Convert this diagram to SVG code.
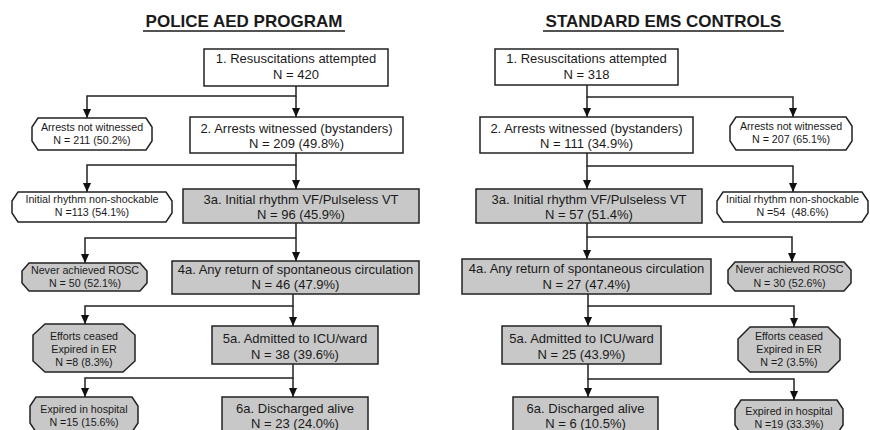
<svg xmlns="http://www.w3.org/2000/svg" width="870" height="430" viewBox="0 0 870 430">
<style>
.bg{fill:#ffffff}
.title{font-family:"Liberation Sans",Arial,sans-serif;font-size:17px;font-weight:bold;fill:#1a1a1a;text-anchor:middle}
.ul{stroke:#1a1a1a;stroke-width:1.5}
.box{fill:#ffffff;stroke:#222;stroke-width:1.5}
.gbox{fill:#c8c8c8;stroke:#222;stroke-width:1.5}
.t{font-family:"Liberation Sans",Arial,sans-serif;font-size:13px;fill:#1a1a1a;text-anchor:middle}
.s{font-family:"Liberation Sans",Arial,sans-serif;font-size:10.7px;fill:#1a1a1a;text-anchor:middle}
.conn path{fill:none;stroke:#222;stroke-width:1.5;marker-end:url(#arr)}
</style>
<defs>
<marker id="arr" viewBox="0 0 10 10" refX="10" refY="5" markerWidth="9" markerHeight="9" markerUnits="userSpaceOnUse" orient="auto">
<path d="M0,0.5 L10,5 L0,9.5 z" fill="#111"/>
</marker>
</defs>
<rect class="bg" x="0" y="0" width="870" height="430"/>

<g id="title-left">
<text class="title" x="244" y="27">POLICE AED PROGRAM</text>
<line class="ul" x1="143" y1="31" x2="345" y2="31"/>
</g>
<g id="title-right">
<text class="title" x="663.5" y="27">STANDARD EMS CONTROLS</text>
<line class="ul" x1="543" y1="31" x2="784" y2="31"/>
</g>

<g class="conn" id="connectors">
<path d="M296,86 V96 H87 V118"/>
<path d="M296,96 V117"/>
<path d="M296,153 V165 H87 V192"/>
<path d="M296,165 V189"/>
<path d="M296,223 V238 H85 V263"/>
<path d="M296,238 V261"/>
<path d="M293,294 V306 H85 V324"/>
<path d="M293,306 V326"/>
<path d="M293,364 V378 H85 V397"/>
<path d="M293,378 V397"/>

<path d="M587,85 V97 H793 V117"/>
<path d="M587,97 V117"/>
<path d="M587,153 V166 H793 V192"/>
<path d="M587,166 V189"/>
<path d="M587,223 V237 H792 V262"/>
<path d="M587,237 V259"/>
<path d="M588,294 V306 H794 V327"/>
<path d="M588,306 V326"/>
<path d="M588,364 V379 H794 V400"/>
<path d="M588,379 V397"/>
</g>

<!-- Left column -->
<g id="L1">
<rect class="box" x="204" y="49" width="184" height="37"/>
<text class="t" x="296" y="63">1. Resuscitations attempted</text>
<text class="t" x="296" y="79">N = 420</text>
</g>
<g id="L-notwit">
<polygon class="box" points="38,118 146,118 152,127 152,141 146,150 38,150 32,141 32,127"/>
<text class="s" x="92" y="131">Arrests not witnessed</text>
<text class="s" x="92" y="144">N = 211 (50.2%)</text>
</g>
<g id="L2">
<rect class="box" x="190" y="117" width="213" height="36"/>
<text class="t" x="296.5" y="133">2. Arrests witnessed (bystanders)</text>
<text class="t" x="296.5" y="148">N = 209 (49.8%)</text>
</g>
<g id="L-nonshock">
<polygon class="box" points="18,192 166,192 172,201 172,213 166,222 18,222 12,213 12,201"/>
<text class="s" x="92" y="203">Initial rhythm non-shockable</text>
<text class="s" x="92" y="216">N =113 (54.1%)</text>
</g>
<g id="L3a">
<rect class="gbox" x="183" y="189" width="236" height="34"/>
<text class="t" x="301" y="204">3a. Initial rhythm VF/Pulseless VT</text>
<text class="t" x="301" y="219">N = 96 (45.9%)</text>
</g>
<g id="L-rosc">
<polygon class="gbox" points="29,263 140,263 147,271 147,283 140,291 29,291 22,283 22,271"/>
<text class="s" x="85" y="274">Never achieved ROSC</text>
<text class="s" x="85" y="287">N = 50 (52.1%)</text>
</g>
<g id="L4a">
<rect class="gbox" x="172" y="261" width="247" height="33"/>
<text class="t" x="295.5" y="274">4a. Any return of spontaneous circulation</text>
<text class="t" x="295.5" y="289">N = 46 (47.9%)</text>
</g>
<g id="L-er">
<polygon class="gbox" points="45,324 123,324 135,335 135,361 123,372 45,372 33,361 33,335"/>
<text class="s" x="84" y="340">Efforts ceased</text>
<text class="s" x="84" y="353">Expired in ER</text>
<text class="s" x="84" y="366">N =8 (8.3%)</text>
</g>
<g id="L5a">
<rect class="gbox" x="212" y="326" width="166" height="38"/>
<text class="t" x="295" y="343">5a. Admitted to ICU/ward</text>
<text class="t" x="295" y="359">N = 38 (39.6%)</text>
</g>
<g id="L-hosp">
<polygon class="gbox" points="36,397 132,397 138,406 138,423 132,432 36,432 30,423 30,406"/>
<text class="s" x="84" y="413">Expired in hospital</text>
<text class="s" x="84" y="426">N =15 (15.6%)</text>
</g>
<g id="L6a">
<rect class="gbox" x="222" y="397" width="146" height="40"/>
<text class="t" x="295" y="413">6a. Discharged alive</text>
<text class="t" x="295" y="428">N = 23 (24.0%)</text>
</g>

<!-- Right column -->
<g id="R1">
<rect class="box" x="495" y="49" width="183" height="36"/>
<text class="t" x="586.5" y="63">1. Resuscitations attempted</text>
<text class="t" x="586.5" y="79">N = 318</text>
</g>
<g id="R2">
<rect class="box" x="480" y="117" width="213" height="36"/>
<text class="t" x="586.5" y="133">2. Arrests witnessed (bystanders)</text>
<text class="t" x="586.5" y="148">N = 111 (34.9%)</text>
</g>
<g id="R-notwit">
<polygon class="box" points="736,117 846,117 852,126 852,141 846,150 736,150 730,141 730,126"/>
<text class="s" x="791" y="130">Arrests not witnessed</text>
<text class="s" x="791" y="143">N = 207 (65.1%)</text>
</g>
<g id="R3a">
<rect class="gbox" x="476" y="189" width="226" height="34"/>
<text class="t" x="589" y="204">3a. Initial rhythm VF/Pulseless VT</text>
<text class="t" x="589" y="219">N = 57 (51.4%)</text>
</g>
<g id="R-nonshock">
<polygon class="box" points="723,192 862,192 868,201 868,213 862,222 723,222 717,213 717,201"/>
<text class="s" x="792.5" y="203">Initial rhythm non-shockable</text>
<text class="s" x="792.5" y="216" xml:space="preserve">N =54  (48.6%)</text>
</g>
<g id="R4a">
<rect class="gbox" x="462" y="259" width="249" height="35"/>
<text class="t" x="586.5" y="273">4a. Any return of spontaneous circulation</text>
<text class="t" x="586.5" y="289">N = 27 (47.4%)</text>
</g>
<g id="R-rosc">
<polygon class="gbox" points="735,262 844,262 851,270 851,283 844,291 735,291 728,283 728,270"/>
<text class="s" x="789.5" y="273">Never achieved ROSC</text>
<text class="s" x="789.5" y="287">N = 30 (52.6%)</text>
</g>
<g id="R5a">
<rect class="gbox" x="502" y="326" width="159" height="38"/>
<text class="t" x="581.5" y="343">5a. Admitted to ICU/ward</text>
<text class="t" x="581.5" y="359">N = 25 (43.9%)</text>
</g>
<g id="R-er">
<polygon class="gbox" points="750,327 828,327 840,339 840,360 828,372 750,372 738,360 738,339"/>
<text class="s" x="789" y="340">Efforts ceased</text>
<text class="s" x="789" y="353">Expired in ER</text>
<text class="s" x="789" y="366">N =2 (3.5%)</text>
</g>
<g id="R6a">
<rect class="gbox" x="513" y="397" width="145" height="40"/>
<text class="t" x="585.5" y="413">6a. Discharged alive</text>
<text class="t" x="585.5" y="428">N = 6 (10.5%)</text>
</g>
<g id="R-hosp">
<polygon class="gbox" points="741,400 837,400 843,409 843,425 837,434 741,434 735,425 735,409"/>
<text class="s" x="789" y="415">Expired in hospital</text>
<text class="s" x="789" y="428">N =19 (33.3%)</text>
</g>
</svg>
